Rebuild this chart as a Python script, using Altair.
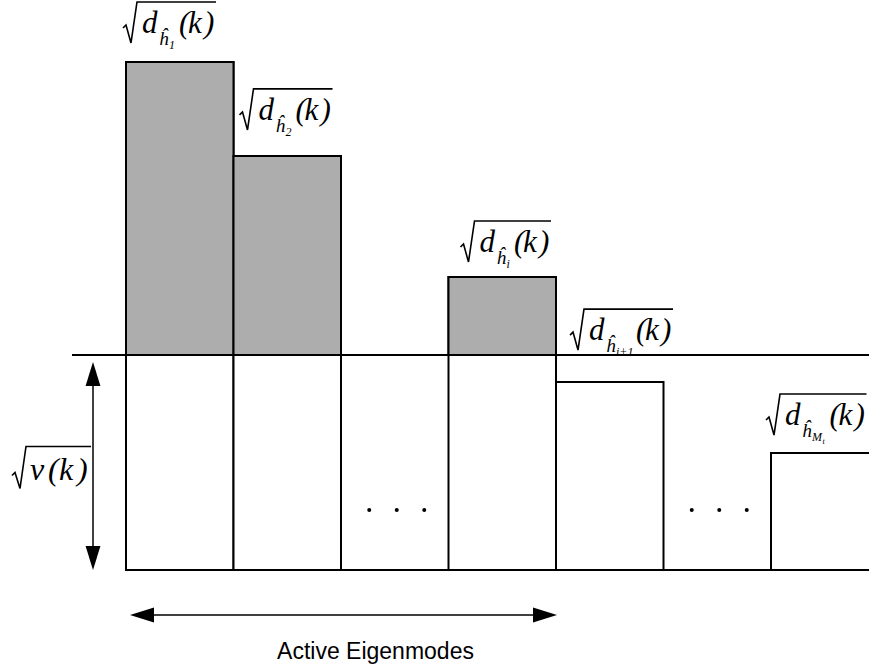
import altair as alt
import pandas as pd

# ---- values ---------------------------------------------------------------
mode_slot = [0, 1, 3, 4, 6]                      # slot occupied by each eigenmode
mode_gain = [2.363, 1.926, 1.363, 0.874, 0.544]  # sqrt(d_h(k)) of each mode
mode_index = ["1", "2", "i", "i+1", "M"]         # index written under the ĥ
mode_index_sub = ["", "", "", "", "t"]           # second-level index
water_level = 1.0                                # sqrt(v(k))
ellipsis_slots = [2, 5]
caption = "Active Eigenmodes"

# ---- layout / style -------------------------------------------------------
W, H = 869, 667
X_DOMAIN = [-1.1721, 6.9116]
Y_DOMAIN = [-0.4512, 2.6512]
PX_X = W / (X_DOMAIN[1] - X_DOMAIN[0])
PX_Y = H / (Y_DOMAIN[1] - Y_DOMAIN[0])
label_shift_x = [-3, 6, 12, 14, -5]  # px from bar's left edge to the radical
label_lift = [29, 36, 25, 42, 28]    # px from bar top up to the text baseline
GREY = "#adadad"
SERIF = "Liberation Serif"
SANS = "Liberation Sans"
ARROW = "M0,-1L0.62,1L-0.62,1Z"


def ox(px):
    return px / PX_X


def oy(px):
    # px measured downward on screen
    return -px / PX_Y


xs = alt.Scale(domain=X_DOMAIN, nice=False, zero=False)
ys = alt.Scale(domain=Y_DOMAIN, nice=False, zero=False)


def X(f):
    return alt.X(f, type="quantitative", scale=xs, axis=None)


def Y(f):
    return alt.Y(f, type="quantitative", scale=ys, axis=None)


# ---- bars -----------------------------------------------------------------
bars = pd.DataFrame({
    "x": mode_slot,
    "x2": [s + 1 for s in mode_slot],
    "top": mode_gain,
    "base": 0.0,
    "water": water_level,
})
active = bars[bars["top"] > water_level]

white_bars = alt.Chart(bars).mark_rect(
    fill="white", stroke="black", strokeWidth=2, clip=True
).encode(x=X("x"), x2="x2", y=Y("base"), y2="top")

grey_bars = alt.Chart(active).mark_rect(
    fill=GREY, stroke="black", strokeWidth=2, clip=True
).encode(x=X("x"), x2="x2", y=Y("water"), y2="top")

# ---- reference lines --------------------------------------------------------
arrow_x = ox(93 - 126)
lines = pd.DataFrame({
    "x": [arrow_x - ox(21), 0.0],
    "x2": [X_DOMAIN[1], X_DOMAIN[1]],
    "y": [water_level, 0.0],
})
hlines = alt.Chart(lines).mark_rule(color="black", strokeWidth=2).encode(
    x=X("x"), x2="x2", y=Y("y")
)

# ---- double arrows ----------------------------------------------------------
top_tip = water_level + oy(7)
bot_tip = 0.0
cap_y = oy(45)
left_tip = active["x"].min() + ox(4)
right_tip = active["x2"].max() + ox(1)

shafts = pd.DataFrame({
    "x": [arrow_x, left_tip + ox(12)],
    "x2": [arrow_x, right_tip - ox(12)],
    "y": [top_tip + oy(12), cap_y],
    "y2": [bot_tip - oy(12), cap_y],
})
shaft_rules = alt.Chart(shafts).mark_rule(color="black", strokeWidth=1.5).encode(
    x=X("x"), x2="x2", y=Y("y"), y2="y2"
)

heads = pd.DataFrame({
    "x": [arrow_x, arrow_x, left_tip + ox(12), right_tip - ox(12)],
    "y": [top_tip + oy(12), bot_tip - oy(12), cap_y, cap_y],
    "a": [0, 180, 270, 90],
})
head_marks = alt.Chart(heads).mark_point(
    shape=ARROW, filled=True, color="black", size=576, strokeWidth=0, opacity=1
).encode(x=X("x"), y=Y("y"), angle=alt.Angle("a:Q", scale=None))

# ---- ellipsis dots ----------------------------------------------------------
dots = pd.DataFrame([
    {"x": s + 0.5 + ox(2) + d * ox(27.5), "y": 60 / PX_Y}
    for s in ellipsis_slots for d in (-1, 0, 1)
])
dot_marks = alt.Chart(dots).mark_circle(color="black", size=16, opacity=1).encode(
    x=X("x"), y=Y("y")
)

# ---- square-root labels ---------------------------------------------------
SUB_W = {"1": 6.0, "2": 6.0, "i": 3.5, "i+1": 16.0, "M": 10.5, "t": 3.0, "": 0.0}
glyphs = []
radicals = []


def add_label(key, ax, ay, pieces, width, top, depth):
    for txt, dx, dy, size in pieces:
        if txt:
            glyphs.append({"x": ax + ox(dx), "y": ay + oy(dy), "t": txt, "s": size})
    path = [(0, -5), (3, -8), (8, depth), (14, top), (width, top)]
    for k, (px, py) in enumerate(path):
        radicals.append({"lab": key, "o": k, "x": ax + ox(px), "y": ay + oy(py)})


for i, (slot, gain) in enumerate(zip(mode_slot, mode_gain)):
    sub, subsub = mode_index[i], mode_index_sub[i]
    extra = SUB_W[sub] + SUB_W[subsub] - 6.0
    kx = 56 + extra
    pieces = [
        ("d", 19, 0, 31),
        ("ĥ", 36, 12, 19),
        (sub, 46, 16, 12),
        (subsub, 46 + SUB_W[sub], 19, 8),
        ("(", kx, 0, 31),
        ("k", kx + 9, 0, 31),
        (")", kx + 25, 0, 31),
    ]
    add_label(f"d{i}", slot + ox(label_shift_x[i]), gain + label_lift[i] / PX_Y,
              pieces, kx + 37, -31, 10)

v_pieces = [("v", 18, 0, 32), ("(", 36, 0, 32), ("k", 47, 0, 32), (")", 65, 0, 32)]
add_label("v", arrow_x + ox(-81), 0.5 * water_level + oy(18), v_pieces, 79, -34, 8)

glyph_marks = alt.Chart(pd.DataFrame(glyphs)).mark_text(
    font=SERIF, fontStyle="italic", align="left", baseline="alphabetic", color="black"
).encode(x=X("x"), y=Y("y"), text="t:N", size=alt.Size("s:Q", scale=None))

radical_marks = alt.Chart(pd.DataFrame(radicals)).mark_line(
    color="black", strokeWidth=1.6, strokeJoin="miter"
).encode(x=X("x"), y=Y("y"), detail="lab:N", order="o:Q")

# ---- caption --------------------------------------------------------------
cap = pd.DataFrame({
    "x": [(left_tip + right_tip) / 2 + ox(32)],
    "y": [oy(89)],
    "t": [caption],
})
caption_mark = alt.Chart(cap).mark_text(
    font=SANS, fontSize=23, align="center", baseline="alphabetic", color="black"
).encode(x=X("x"), y=Y("y"), text="t:N")

chart = alt.layer(
    white_bars, grey_bars, hlines, shaft_rules, head_marks, dot_marks,
    radical_marks, glyph_marks, caption_mark,
).properties(
    width=W, height=H, autosize="none", padding=0, background="white"
).configure_view(stroke=None)

chart.save("out.html", embed_options={"renderer": "svg", "actions": False})
